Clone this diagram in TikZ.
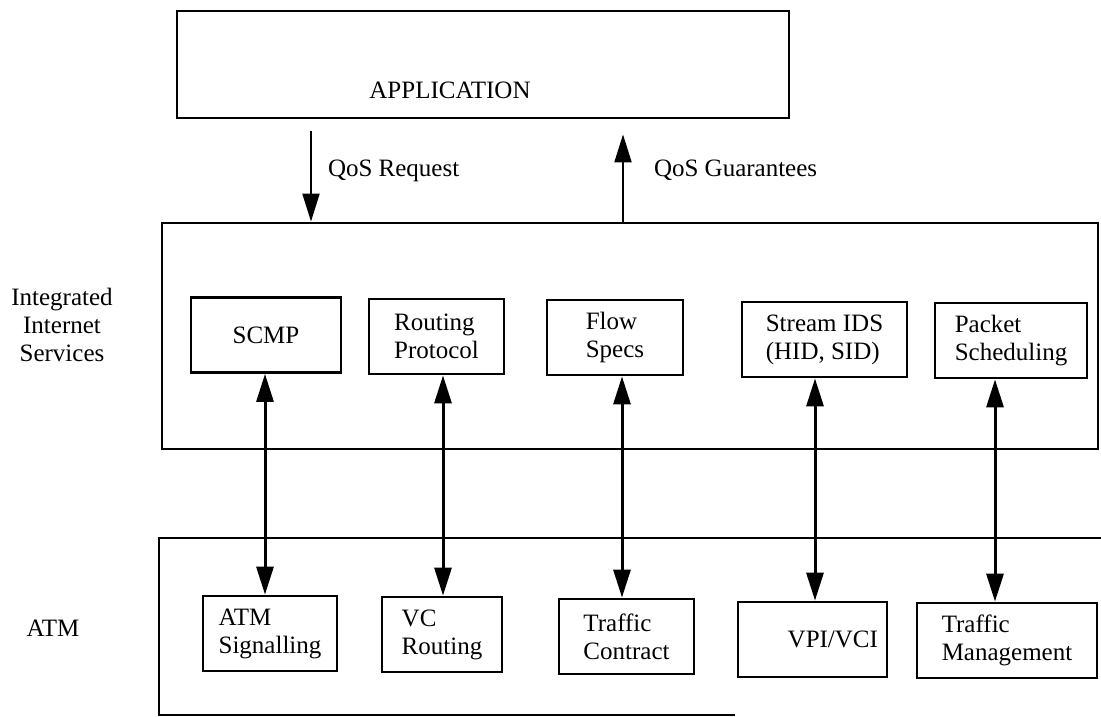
\documentclass[tikz,border=0pt]{standalone}
\usepackage{fontspec}
\setmainfont{Liberation Serif}
\usetikzlibrary{arrows.meta,positioning}
\tikzset{
	layer/.style    = {draw, line width=2.8pt, rectangle, inner sep=0pt},
	block/.style    = {draw, line width=2.8pt, rectangle, inner sep=0pt,
		align=left,
		minimum height = 75pt},
	side/.style     = {align=center, inner sep=0pt},
	msg/.style      = {inner sep=0pt},
}

\begin{document}
\begin{tikzpicture}[ x=1pt, y=-1pt,                        %<--one unit is one pixel, y downwards
                       font=\fontsize{25}{28}\selectfont,   %<--setting text size
                       >={Triangle[length=28pt,width=17pt]} ] %<--sets the arrowtype
    \useasboundingbox (0,0) rectangle (1101,717);

    \draw%-----------------------------------------------------------------------------------------
    	%Drawing the Layers:
    	node(app) at (483,64.5) [layer, minimum width=612pt, minimum height=107pt] {}
    	node(applabel) at (450,90) [msg] {APPLICATION}
    	node(iis) at (630,336) [layer, minimum width=936pt, minimum height=226pt] {}
    	%Drawing the Layer Names:
    	node(iisname) at (62,325) [side] {Integrated\\Internet\\Services}
    	node(atmname) at (53,628) [side] {ATM}
    	%Drawing the Internet Service Blocks:
    	node(scmp) at (266,335) [block, minimum width=150pt] {SCMP}
    	node(rproto) at (436.5,336.5) [block, minimum width=135pt] {Routing\\Protocol}
    	node(flow) at (615,337.5) [block, minimum width=136pt] {Flow\\Specs}
    	node(sids) at (824.5,339.5) [block, minimum width=165pt] {Stream IDS\\(HID, SID)}
    	node(psched) at (1011,340.5) [block, minimum width=152pt] {Packet\\Scheduling}
    	%Drawing the ATM Blocks:
    	node(atmsig) at (270,633.5) [block, minimum width=134pt] {ATM\\Signalling}
    	node(vcr) at (442,634.5) [block, minimum width=120pt] {VC\\Routing}
    	node(tcon) at (626.5,636.5) [block, minimum width=135pt] {Traffic\\Contract}
    	node(vpi) at (812.5,639.5) [block, minimum width=149pt, text width=131pt, align=right] {VPI/VCI}
    	node(tman) at (1007,640.5) [block, minimum width=180pt] {Traffic\\Management}
    ;%---------------------------------------------------------------------------------------------

    %Drawing the ATM Layer (cut off at the right):
    \coordinate (atmTR) at (1101,538);
    \coordinate (atmBL) at (159,715);
    \coordinate (atmBR) at (735,715);
    \draw[line width=2.8pt] (atmTR) -| (atmBL) -- (atmBR);

    %Joining Application and Services
    \coordinate (reqcol) at (311,0);
    \coordinate (guarcol) at (623,0);
    \draw[->, line width=2pt, shorten <=12pt] (app.south -| reqcol) -- node[msg, right=16pt] {QoS Request} (iis.north -| reqcol);
    \draw[->, line width=2pt, shorten >=15pt] (iis.north -| guarcol) -- node[msg, right=30pt] {QoS Guarantees} (app.south -| guarcol);

    %Joining Services and ATM
    \foreach \upper/\lower/\col in {scmp/atmsig/265, rproto/vcr/443, flow/tcon/622, sids/vpi/815, psched/tman/995}
    {
    	\coordinate (col) at (\col,0);
    	\draw[<->, line width=3pt] (\upper.south -| col) -- (\lower.north -| col);
    }
\end{tikzpicture}
\end{document}
